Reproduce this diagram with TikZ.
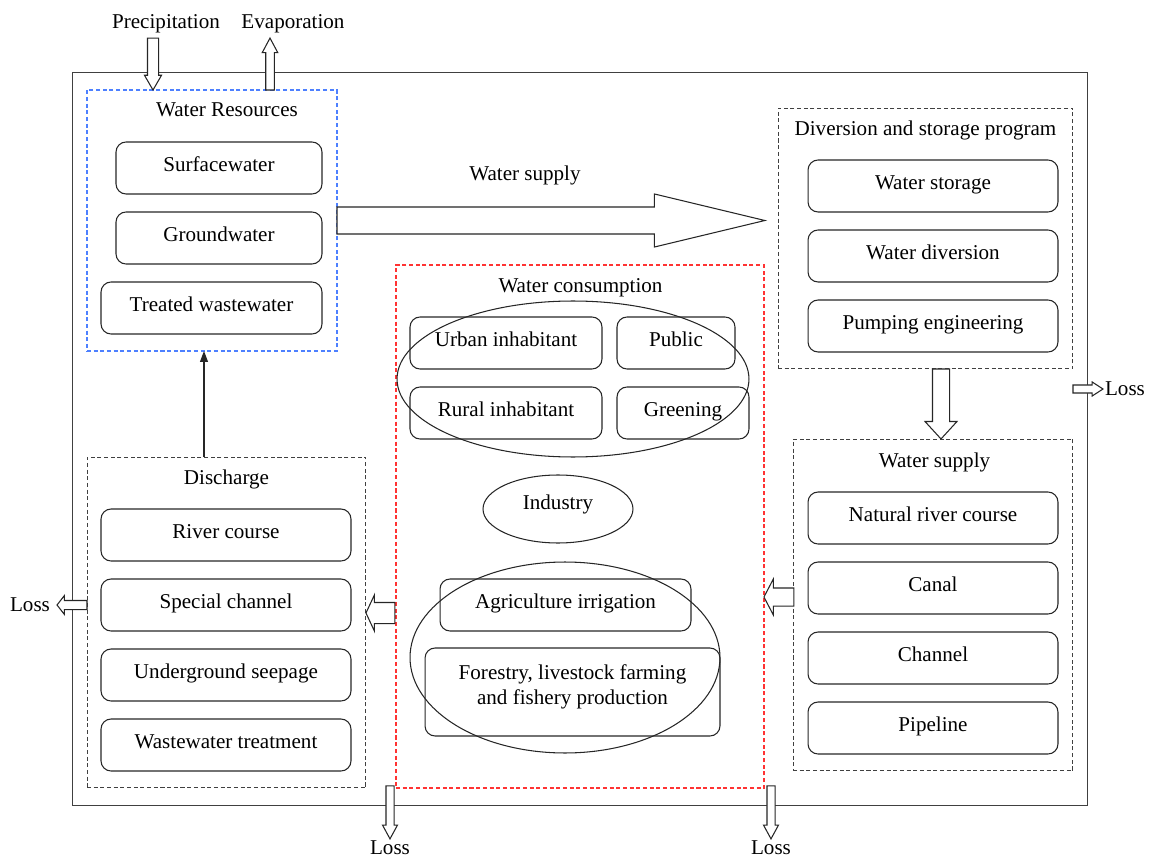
\documentclass[tikz,border=0pt]{standalone}
\usepackage{fontspec}
\setmainfont{Liberation Serif}
\usetikzlibrary{arrows.meta,shapes.geometric,shapes.arrows}

\definecolor{resblue}{RGB}{77,128,255}
\definecolor{usered}{RGB}{255,51,51}

\tikzset{
  txt/.style={font=\fontsize{12}{14}\selectfont, inner sep=1pt},
  item/.style={txt, draw=black!85, line width=0.6pt, rounded corners=0.2cm,
    minimum height=1.04cm, outer sep=0pt, text height=8pt, text depth=4pt},
  grp/.style={draw=black!75, line width=0.55pt, dash pattern=on 2.3pt off 1.5pt,
    inner sep=0pt, outer sep=0pt},
  ell/.style={ellipse, draw=black!85, line width=0.6pt, inner sep=0pt},
  blk/.style={single arrow, draw=black!85, fill=white, line width=0.6pt,
    inner xsep=0pt, outer sep=0pt, single arrow head indent=0pt},
}

\begin{document}
\begin{tikzpicture}[x=0.02cm, y=-0.02cm]
\useasboundingbox (0,0) rectangle (1150,858);

% system border
\node[draw=black!75, line width=0.6pt, minimum width=20.32cm, minimum height=14.68cm,
  inner sep=0pt, outer sep=0pt] (sys) at (580,439) {};

\node[txt] (prec) at (166,24) {Precipitation};
\node[txt] (evap) at (293,24) {Evaporation};

% water resources
\node[grp, draw=resblue, line width=0.8pt, minimum width=5cm, minimum height=5.22cm] (res) at (212,220.5) {};
\node[txt] (resT) at (227,110) {Water Resources};
\node[item, minimum width=4.12cm] (surf) at (219,168) {Surfacewater};
\node[item, minimum width=4.12cm] (grnd) at (219,238) {Groundwater};
\node[item, minimum width=4.42cm] (treat) at (211.5,308) {Treated wastewater};

% diversion and storage
\node[grp, minimum width=5.9cm, minimum height=5.22cm] (div) at (925.5,238.5) {};
\node[txt] (divT) at (925.5,130) {Diversion and storage program};
\node[item, minimum width=5cm] (stor) at (933,186) {Water storage};
\node[item, minimum width=5cm] (divr) at (933,256) {Water diversion};
\node[item, minimum width=5cm] (pump) at (933,326) {Pumping engineering};

% water supply
\node[grp, minimum width=5.6cm, minimum height=6.64cm] (sup) at (933,605) {};
\node[txt] (supT) at (934.5,462) {Water supply};
\node[item, minimum width=5cm] (river) at (933,518) {Natural river course};
\node[item, minimum width=5cm] (canal) at (933,588) {Canal};
\node[item, minimum width=5cm] (chan) at (933,658) {Channel};
\node[item, minimum width=5cm] (pipe) at (933,728) {Pipeline};

% water consumption
\node[grp, draw=usered, line width=0.8pt, minimum width=7.36cm, minimum height=10.46cm] (cons) at (580,526.5) {};
\node[txt] (consT) at (580.5,288) {Water consumption};
\node[item, minimum width=3.84cm] (urban) at (506,343) {Urban inhabitant};
\node[item, minimum width=2.36cm] (pub) at (676,343) {Public};
\node[item, minimum width=3.84cm] (rural) at (506,413) {Rural inhabitant};
\node[item, minimum width=2.64cm] (green) at (683,413) {Greening};
\node[ell, minimum width=7.04cm, minimum height=3.12cm] (resid) at (573,379) {};
\node[ell, txt, minimum width=3cm, minimum height=1.36cm, text height=8pt, text depth=7pt] (ind) at (558,509) {Industry};
\node[item, minimum width=5.02cm] (agri) at (565.5,605) {Agriculture irrigation};
\node[draw=black!85, line width=0.6pt, rounded corners=0.2cm, minimum width=5.9cm,
  minimum height=1.76cm, outer sep=0pt] (forest) at (572.5,692) {};
\node[txt, align=center] (forestT) at (572.5,687) {Forestry, livestock farming\\and fishery production};
\node[ell, minimum width=6.2cm, minimum height=3.82cm] (farm) at (565,657.5) {};

% discharge
\node[grp, minimum width=5.58cm, minimum height=6.62cm] (dis) at (226.5,622.5) {};
\node[txt] (disT) at (226.5,479) {Discharge};
\node[item, minimum width=5cm] (rcourse) at (226,535) {River course};
\node[item, minimum width=5cm] (spec) at (226,605) {Special channel};
\node[item, minimum width=5cm] (seep) at (226,675) {Underground seepage};
\node[item, minimum width=5cm] (wwt) at (226,745) {Wastewater treatment};

% labels
\node[txt] (supL) at (525,175) {Water supply};
\node[txt] (lossR) at (1125,389) {Loss};
\node[txt] (lossL) at (30,605) {Loss};
\node[txt] (lossB1) at (390,848) {Loss};
\node[txt] (lossB2) at (771,848) {Loss};

% flows
\node[blk, rotate=-90, anchor=tip, minimum height=1.04cm, inner ysep=0.1cm,
  single arrow head extend=0.06cm, single arrow tip angle=60] (pin) at (res.north -| 153,0) {};
\node[blk, rotate=90, anchor=tail, minimum height=1.04cm, inner ysep=0.075cm,
  single arrow head extend=0.07cm, single arrow tip angle=56] (pout) at (res.north -| 270,0) {};
\node[blk, anchor=tail, minimum height=8.56cm, inner ysep=0.26cm,
  single arrow head extend=0.26cm, single arrow tip angle=27] (flow) at (res.east) {};
\node[blk, rotate=-90, anchor=tail, minimum height=1.4cm, inner ysep=0.16cm,
  single arrow head extend=0.15cm, single arrow tip angle=85] (d2s) at ([xshift=0.31cm]div.south) {};
\node[blk, rotate=180, anchor=tip, minimum height=0.6cm, inner ysep=0.17cm,
  single arrow head extend=0.18cm, single arrow tip angle=125] (s2c) at (cons.east |- 0,597) {};
\node[blk, rotate=180, anchor=tip, minimum height=0.58cm, inner ysep=0.2cm,
  single arrow head extend=0.15cm, single arrow tip angle=130] (c2d) at (dis.east |- 0,613) {};
\node[blk, anchor=tip, minimum height=0.6cm, inner ysep=0.07cm,
  single arrow head extend=0.06cm, single arrow tip angle=66] at (lossR.west) {};
\node[blk, rotate=180, anchor=tip, minimum height=0.6cm, inner ysep=0.08cm,
  single arrow head extend=0.1cm, single arrow tip angle=104] at ([xshift=0.1cm]lossL.east) {};
\node[blk, rotate=-90, anchor=tip, minimum height=1.06cm, inner ysep=0.07cm,
  single arrow head extend=0.07cm, single arrow tip angle=57] at (lossB1.north) {};
\node[blk, rotate=-90, anchor=tip, minimum height=1.06cm, inner ysep=0.07cm,
  single arrow head extend=0.07cm, single arrow tip angle=57] at (lossB2.north) {};

\draw[-{Triangle[length=0.22cm,width=0.16cm]}, line width=0.6pt, black!85]
  (dis.north -| 204,0) -- (res.south -| 204,0);
\end{tikzpicture}
\end{document}
